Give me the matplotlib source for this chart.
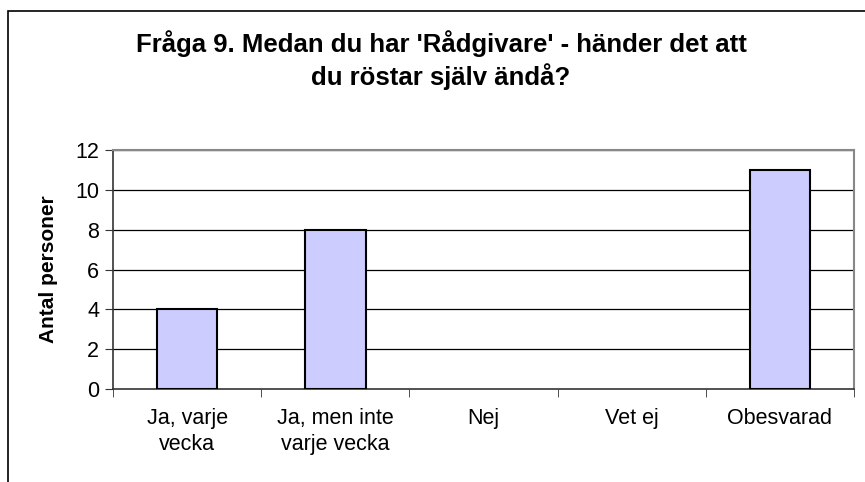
import matplotlib
matplotlib.use("Agg")
import matplotlib.pyplot as plt
from matplotlib.patches import Rectangle

plt.rcParams['font.family'] = ['Liberation Sans', 'DejaVu Sans']

categories = ["Ja, varje\nvecka", "Ja, men inte\nvarje vecka", "Nej", "Vet ej", "Obesvarad"]
values = [4, 8, 0, 0, 11]
yticks = [0, 2, 4, 6, 8, 10, 12]
title_lines = ["Fråga 9. Medan du har 'Rådgivare' - händer det att", "du röstar själv ändå?"]
ylabel = "Antal personer"

W, H = 865, 482
fig = plt.figure(figsize=(W / 100, H / 100), dpi=100)

# outer chart border (extends beyond right/bottom edges)
fig.patches.append(Rectangle((8 / W, -0.1), 1.2, 1 - 11 / H + 0.1, transform=fig.transFigure,
                             fill=False, edgecolor='black', linewidth=1.2))

x0, x1, y0, y1 = 113, 854, 150, 389
ax = fig.add_axes([x0 / W, 1 - y1 / H, (x1 - x0) / W, (y1 - y0) / H])

xs = list(range(len(categories)))
edges = ['black' if v > 0 else 'none' for v in values]
ax.bar(xs, values, width=0.41, color='#CCCCFF', edgecolor=edges, linewidth=1.5, zorder=3)

ax.set_xlim(-0.5, len(categories) - 0.5)
ax.set_ylim(0, 12)
ax.set_yticks(yticks)
ax.set_yticklabels([str(t) for t in yticks], fontsize=15.5)
for t in yticks[1:]:
    ax.axhline(t, color='black', linewidth=0.9, zorder=1)

ax.set_xticks(xs)
ax.set_xticklabels(categories, fontsize=15.5, linespacing=1.3)
ax.tick_params(axis='x', length=0, pad=14)
ax.set_xticks([i - 0.5 for i in range(len(categories) + 1)], minor=True)
ax.tick_params(axis='x', which='minor', length=6, direction='out', color='#333333')
ax.tick_params(axis='y', length=6, direction='out', color='#333333', pad=4)

for s in ['top', 'right']:
    ax.spines[s].set_color('#888888')
    ax.spines[s].set_linewidth(1.5)
ax.spines['left'].set_color('#333333')
ax.spines['bottom'].set_color('#333333')
ax.spines['left'].set_linewidth(1.2)
ax.spines['bottom'].set_linewidth(1.2)

ax.set_ylabel(ylabel, fontsize=15, fontweight='bold', labelpad=12)
for line, base in zip(title_lines, [52, 85]):
    fig.text(441 / W, 1 - base / H, line, ha='center', va='baseline', fontsize=18.5,
             fontweight='bold')

fig.savefig("out.png", dpi=100)
